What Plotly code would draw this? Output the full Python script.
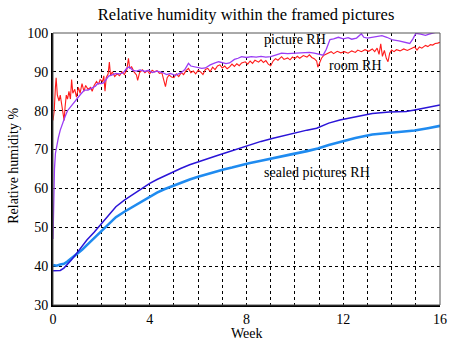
import plotly.graph_objects as go

# ---- data (week, RH %) ----
room_w = [0.0,0.05,0.1,0.13,0.18,0.25,0.3,0.35,0.42,0.46,0.5,0.55,0.6,0.66,0.72,0.77,0.82,0.9,0.97,1.05,1.12,1.2,1.28,1.35,1.45,1.55,1.62,1.7,1.8,1.88,1.95,2.05,2.1,2.15,2.2,2.28,2.33,2.38,2.45,2.55,2.65,2.75,2.85,2.95,3.05,3.12,3.17,3.25,3.35,3.45,3.5,3.58,3.7,3.8,3.9,4.0,4.1,4.2,4.3,4.4,4.5,4.6,4.65,4.72,4.8,4.9,5.0,5.1,5.2,5.3,5.4,5.5,5.6,5.7,5.8,5.9,6.0,6.1,6.2,6.3,6.4,6.5,6.6,6.7,6.8,6.9,7.0,7.1,7.2,7.3,7.4,7.5,7.6,7.7,7.8,7.95,8.05,8.15,8.25,8.35,8.5,8.6,8.7,8.8,8.9,9.0,9.1,9.2,9.3,9.45,9.55,9.7,9.8,9.9,10.0,10.1,10.2,10.35,10.5,10.6,10.7,10.8,10.9,10.95,11.0,11.1,11.2,11.35,11.5,11.6,11.75,11.9,12.05,12.2,12.35,12.5,12.6,12.75,12.9,13.05,13.2,13.3,13.4,13.48,13.55,13.62,13.7,13.78,13.85,13.92,14.0,14.1,14.2,14.35,14.5,14.65,14.8,14.95,15.05,15.15,15.25,15.4,15.5,15.6,15.7,15.8,15.9,16.0]
room_rh = [77.5,80,86,88.5,84,82.5,84,82,80,77.5,81,84,83,85,83,88,84.5,85.5,83.5,86,84.5,87,85,86.5,85.5,86,85,86.5,87.5,86.8,88,87.5,89,85,88.5,89.5,92.5,89,90,88.8,89.5,89,90,89.3,90.5,93.5,91,91.3,90,89.2,87.8,89.8,90.5,89.8,90.3,89.5,90.4,90,90.3,89.6,89.8,87.5,86.2,88.5,89.2,88.7,88.5,89.5,88.8,89.8,89.3,90.3,90.9,89.8,90.2,89.5,90.4,90,89.3,90.6,90.9,90.1,91.2,90.6,91.5,91.8,91,91.5,90.8,91.3,92,91.4,92.1,91.6,92.3,92.6,92,92.8,92.2,93,92.5,93.1,92.4,92.9,92,91.6,92.8,93.4,93,93.9,93.2,93.6,93.1,93.8,93.4,94,93.5,94.2,93.8,94.4,93.7,93.4,92.8,91.2,92,93.5,94.3,94.8,95.2,94.7,95.3,94.9,95.2,94.8,95.4,95,95.6,95.2,95.7,95.3,95.9,95.2,96.1,94.5,97.2,94,95.5,93.5,92.6,94.8,95.6,95.2,95.7,95.4,95.9,95.5,96,96.4,95.6,96.4,96.1,96.8,96.5,97,96.9,97.3,97.4,97.6]

pic_w = [0.0,0.03,0.06,0.1,0.15,0.22,0.3,0.4,0.5,0.6,0.72,0.85,1.0,1.15,1.3,1.45,1.6,1.75,1.85,2.0,2.1,2.2,2.3,2.45,2.6,2.75,2.9,3.05,3.15,3.3,3.45,3.6,3.8,3.95,4.1,4.3,4.5,4.7,4.85,5.05,5.3,5.45,5.6,5.7,5.85,6.0,6.15,6.3,6.5,6.7,6.85,7.0,7.15,7.3,7.5,7.65,7.8,8.0,8.2,8.4,8.6,8.8,9.0,9.2,9.45,9.7,10.0,10.3,10.6,10.8,11.0,11.17,11.3,11.45,11.6,11.8,12.0,12.2,12.35,12.55,12.75,12.85,13.0,13.2,13.4,13.6,13.8,14.05,14.3,14.55,14.75,14.88,15.0,15.2,15.4,15.55,15.7,15.85,16.0]
pic_rh = [47,58,65,69,71,73,75,77,78.5,80,81,82,83.2,84.3,85.3,85.3,85.8,86.3,87,87,87.2,88.2,88.9,89.2,89.6,89.5,89.7,90.9,91.3,90.4,90.2,90.5,90.1,90.4,89.8,90.2,89.9,89.3,89.6,89.1,89.8,90.6,92.2,91.5,91.3,91.2,90.9,91,91.8,92.3,92.6,92.4,92.1,92.3,93.2,93.5,93.9,93.7,93.9,93.8,94,93.8,93.9,94.3,94.8,94.7,94.8,94.9,95,94.8,94.6,94.3,95.8,98.3,98.5,98.9,98.5,98.8,98.4,98.7,99.8,98.9,98.7,98.9,99.1,99.3,98.9,98.2,98,97.6,97.3,98.5,99.9,99.7,99.4,99.7,100,100.3,100.5]

blue_w = [0,0.3,0.45,0.58,0.75,0.93,1.2,1.4,1.7,1.97,2.3,2.6,2.95,3.3,3.65,4.0,4.3,4.6,5.0,5.3,5.65,6.0,6.35,6.7,7.05,7.4,7.73,8.1,8.6,9.1,9.8,10.5,10.9,11.1,11.4,11.86,12.5,13.2,13.9,14.3,14.6,14.95,15.5,16]
blue_rh = [38.8,38.9,39.5,40.3,41.5,42.9,45,46.7,48.7,50.6,53.2,55.3,57,58.5,60,61.3,62.3,63.2,64.4,65.2,66.1,66.9,67.6,68.3,69,69.7,70.5,71.2,72.1,72.9,74,75,75.5,76.1,76.8,77.6,78.5,79.3,79.7,79.7,79.8,80.2,80.8,81.5]

sealed_w = [0,0.15,0.3,0.45,0.58,0.75,0.93,1.2,1.4,1.7,1.97,2.3,2.6,2.95,3.3,3.65,4.0,4.3,4.6,5.0,5.3,5.65,6.0,6.35,6.7,7.05,7.4,7.73,8.1,8.6,9.1,9.8,10.5,10.95,11.4,11.86,12.5,13.2,13.9,14.6,14.95,15.5,16]
sealed_rh = [40.3,40.1,40.4,40.6,41.1,41.9,42.9,44.2,45.4,47.2,48.9,50.8,52.6,54,55.3,56.6,57.9,58.9,59.8,60.8,61.5,62.3,63,63.7,64.3,64.9,65.4,66.0,66.5,67.1,67.7,68.7,69.6,70.3,71.2,72.0,73.0,73.9,74.3,74.6,74.9,75.5,76.1]

x_ticks = [0, 4, 8, 12, 16]
y_ticks = [30, 40, 50, 60, 70, 80, 90, 100]

FONT = "Liberation Serif, Times New Roman, serif"

fig = go.Figure()
fig.add_trace(go.Scatter(x=sealed_w, y=sealed_rh, mode="lines",
                         line=dict(color="#1f8bf0", width=2.6), showlegend=False))
fig.add_trace(go.Scatter(x=blue_w, y=blue_rh, mode="lines",
                         line=dict(color="#2a14d8", width=1.5), showlegend=False))
fig.add_trace(go.Scatter(x=room_w, y=room_rh, mode="lines",
                         line=dict(color="#ff1a1a", width=1.1), showlegend=False))
fig.add_trace(go.Scatter(x=pic_w, y=pic_rh, mode="lines",
                         line=dict(color="#9a3cf5", width=1.3), showlegend=False))

fig.update_layout(
    width=460, height=341,
    margin=dict(l=53, r=20, t=33, b=36),
    paper_bgcolor="white", plot_bgcolor="white",
    font=dict(family=FONT, size=14, color="black"),
    title=dict(text="Relative humidity within the framed pictures",
               x=0.535, xanchor="center", y=0.958, yanchor="middle",
               font=dict(family=FONT, size=16.5, color="black")),
    xaxis=dict(range=[0, 16], tickvals=x_ticks, showgrid=False,
               zeroline=False, showline=True, linecolor="black", linewidth=2,
               ticks="", ticklen=0, automargin=False,
               tickfont=dict(family=FONT, size=14),
               minor=dict(dtick=1, showgrid=True, gridcolor="black",
                          griddash="dot", gridwidth=1)),
    yaxis=dict(range=[30, 100], tickvals=y_ticks, showgrid=True,
               gridcolor="black", griddash="dot", gridwidth=1,
               zeroline=False, showline=True, linecolor="black", linewidth=2,
               ticks="", ticklen=0, automargin=False,
               tickfont=dict(family=FONT, size=14)),
)

fig.add_shape(type="rect", xref="paper", yref="paper", x0=0, y0=0, x1=1, y1=1,
              line=dict(color="#555555", width=1), layer="above")

# axis titles
fig.add_annotation(xref="paper", yref="paper", x=0.502, y=-0.104,
                   xanchor="center", yanchor="middle", text="Week",
                   showarrow=False, font=dict(family=FONT, size=14))
fig.add_annotation(xref="paper", yref="paper", x=-0.102, y=0.51,
                   xanchor="center", yanchor="middle", textangle=-90,
                   text="Relative humidity %", showarrow=False,
                   font=dict(family=FONT, size=14))

ann_font = dict(family=FONT, size=14, color="black")
fig.add_annotation(x=10.0, y=98.2, text="picture RH", showarrow=False,
                   font=ann_font)
fig.add_annotation(x=12.5, y=91.7, text="room RH", showarrow=False,
                   font=ann_font)
fig.add_annotation(x=10.9, y=64.2, text="sealed pictures RH", showarrow=False,
                   font=ann_font)

fig.write_html("out.html")
